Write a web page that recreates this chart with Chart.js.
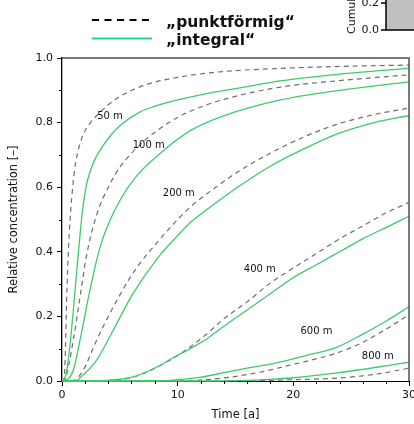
<!DOCTYPE html>
<html>
<head>
<meta charset="utf-8">
<script src="https://cdn.jsdelivr.net/npm/chart.js@4.4.1/dist/chart.umd.min.js"></script>
<style>
  html, body { margin: 0; padding: 0; background: #fff; }
</style>
</head>
<body>
<canvas id="myChart" width="414" height="424"></canvas>
<script>
// distances of the observation points
const distances = ['50 m', '100 m', '200 m', '400 m', '600 m', '800 m'];

// "punktförmig" (dashed) : time [a] / relative concentration
const tPunkt50  = [0, 0.15, 0.3, 0.4, 0.55, 0.7, 0.98, 1.2, 1.6, 2.0, 2.4, 3.0, 4.0, 5.2, 7.5, 10, 12.5, 15, 19, 24, 30];
const cPunkt50  = [0, 0, 0.1, 0.25, 0.4, 0.5, 0.62, 0.68, 0.74, 0.775, 0.797, 0.822, 0.855, 0.885, 0.92, 0.94, 0.953, 0.961, 0.968, 0.974, 0.978];
const tPunkt100 = [0, 0.25, 0.55, 0.98, 1.56, 2.13, 3.0, 4.15, 5, 6, 7, 8.2, 10.2, 12.5, 15.4, 18.9, 24, 30];
const cPunkt100 = [0, 0.003, 0.044, 0.127, 0.26, 0.39, 0.515, 0.61, 0.662, 0.705, 0.74, 0.775, 0.82, 0.855, 0.885, 0.91, 0.93, 0.948];
const tPunkt200 = [0, 1.0, 1.84, 3.0, 4.15, 5.88, 6.75, 8.5, 10, 11.3, 13.7, 15.4, 18, 21, 23.8, 27, 30];
const cPunkt200 = [0, 0.002, 0.034, 0.127, 0.21, 0.32, 0.365, 0.44, 0.5, 0.545, 0.61, 0.652, 0.705, 0.757, 0.795, 0.825, 0.845];
const tPunkt400 = [0, 3, 4.15, 6.16, 8.47, 9.6, 11.07, 12.5, 13.9, 16, 18, 20, 22, 24, 26, 28, 30];
const cPunkt400 = [0, 0, 0.002, 0.012, 0.047, 0.07, 0.105, 0.145, 0.19, 0.245, 0.303, 0.35, 0.395, 0.44, 0.48, 0.52, 0.553];
const tPunkt600 = [0, 10, 12, 13.9, 16, 18, 19, 21, 23.8, 26, 28, 30];
const cPunkt600 = [0, 0, 0.003, 0.009, 0.02, 0.034, 0.043, 0.06, 0.087, 0.12, 0.16, 0.205];
const tPunkt800 = [0, 16, 18, 20, 23.8, 26, 28, 30];
const cPunkt800 = [0, 0, 0.002, 0.004, 0.009, 0.016, 0.026, 0.04];

// "integral" (green) : time [a] / relative concentration
const tInt50  = [0, 0.25, 0.4, 0.69, 0.98, 1.25, 1.5, 1.75, 2.1, 2.5, 2.8, 3.3, 4.2, 5, 6.75, 8, 10, 12.5, 15, 19, 24, 30];
const cInt50  = [0, 0.01, 0.03, 0.11, 0.22, 0.33, 0.43, 0.52, 0.605, 0.655, 0.683, 0.715, 0.76, 0.79, 0.833, 0.85, 0.87, 0.89, 0.905, 0.93, 0.95, 0.968];
const tInt100 = [0, 0.4, 0.98, 1.56, 2.42, 3.28, 4.44, 6.16, 8.5, 11.1, 13.9, 18.9, 24, 30];
const cInt100 = [0, 0.003, 0.034, 0.127, 0.282, 0.413, 0.52, 0.622, 0.705, 0.775, 0.82, 0.87, 0.9, 0.926];
const tInt200 = [0, 1.2, 1.56, 3.0, 4.44, 6.16, 8.47, 10, 11.07, 12.5, 15.4, 18, 21, 23.8, 27, 30];
const cInt200 = [0, 0, 0.01, 0.065, 0.158, 0.272, 0.39, 0.45, 0.49, 0.53, 0.605, 0.665, 0.72, 0.765, 0.8, 0.822];
const tInt400 = [0, 3, 4.15, 6.16, 8.47, 9.6, 11.07, 12.5, 13.9, 16, 18, 20, 22, 24, 26, 28, 30];
const cInt400 = [0, 0, 0.003, 0.013, 0.048, 0.072, 0.1, 0.13, 0.167, 0.22, 0.27, 0.32, 0.36, 0.4, 0.44, 0.475, 0.51];
const tInt600 = [0, 8, 9.6, 12, 13.9, 16, 18, 19, 21, 23.8, 26, 28, 30];
const cInt600 = [0, 0, 0.003, 0.012, 0.025, 0.04, 0.052, 0.06, 0.078, 0.105, 0.145, 0.185, 0.23];
const tInt800 = [0, 13, 16, 18, 20, 23.8, 26, 28, 30];
const cInt800 = [0, 0, 0.002, 0.005, 0.01, 0.025, 0.036, 0.047, 0.058];

const xTicks = [0, 10, 20, 30];
const yTicks = [0.0, 0.2, 0.4, 0.6, 0.8, 1.0];

const legendNames = ['\u201Epunktförmig\u201C', '\u201Eintegral\u201C'];

const GREEN = '#3dcc6c';
const GREY = '#6e6e6e';
const FONT = "'DejaVu Sans', sans-serif";

function pts(t, c) {
  return t.map((x, i) => ({ x: x, y: c[i] }));
}

const punkt = [
  [tPunkt50, cPunkt50], [tPunkt100, cPunkt100], [tPunkt200, cPunkt200],
  [tPunkt400, cPunkt400], [tPunkt600, cPunkt600], [tPunkt800, cPunkt800]
];
const integral = [
  [tInt50, cInt50], [tInt100, cInt100], [tInt200, cInt200],
  [tInt400, cInt400], [tInt600, cInt600], [tInt800, cInt800]
];

// green first so it is drawn on top
const datasets = [];
integral.forEach((s, i) => datasets.push({
  label: legendNames[1] + ' ' + distances[i],
  data: pts(s[0], s[1]),
  borderColor: GREEN, borderWidth: 1.3,
  cubicInterpolationMode: 'monotone', clip: false
}));
punkt.forEach((s, i) => datasets.push({
  label: legendNames[0] + ' ' + distances[i],
  data: pts(s[0], s[1]),
  borderColor: GREY, borderWidth: 1.2, borderDash: [5, 4],
  cubicInterpolationMode: 'monotone', clip: false
}));

// where the distance labels sit (data units)
const labelAt = [[4.15, 0.82], [7.5, 0.73], [10.1, 0.58], [17.1, 0.347], [22.0, 0.152], [27.3, 0.077]];

const extras = {
  id: 'extras',
  afterDraw(chart) {
    const ctx = chart.ctx;
    const a = chart.chartArea;
    const xs = chart.scales.x, ys = chart.scales.y;
    ctx.save();

    // frame top + right
    ctx.strokeStyle = '#505050';
    ctx.lineWidth = 1.5;
    ctx.beginPath();
    ctx.moveTo(a.left, a.top);
    ctx.lineTo(a.right, a.top);
    ctx.lineTo(a.right, a.bottom);
    ctx.stroke();

    // minor ticks
    ctx.strokeStyle = '#000';
    ctx.lineWidth = 1;
    ctx.beginPath();
    for (let v = 2; v < 30; v += 2) {
      if (v % 10 === 0) continue;
      const px = Math.round(xs.getPixelForValue(v)) + 0.5;
      ctx.moveTo(px, a.bottom);
      ctx.lineTo(px, a.bottom + 3);
    }
    for (let v = 0.1; v < 1; v += 0.2) {
      const py = Math.round(ys.getPixelForValue(v)) + 0.5;
      ctx.moveTo(a.left, py);
      ctx.lineTo(a.left - 3, py);
    }
    ctx.stroke();

    // distance labels
    ctx.fillStyle = '#111';
    ctx.font = '10px ' + FONT;
    ctx.textAlign = 'center';
    ctx.textBaseline = 'middle';
    distances.forEach((d, i) => {
      ctx.fillText(d, xs.getPixelForValue(labelAt[i][0]), ys.getPixelForValue(labelAt[i][1]));
    });

    // legend
    ctx.lineWidth = 2;
    ctx.strokeStyle = '#000';
    ctx.setLineDash([7, 5.5]);
    ctx.beginPath();
    ctx.moveTo(92, 20); ctx.lineTo(152, 20);
    ctx.stroke();
    ctx.setLineDash([]);
    ctx.strokeStyle = '#22d39a';
    ctx.beginPath();
    ctx.moveTo(92, 38.5); ctx.lineTo(152, 38.5);
    ctx.stroke();
    ctx.fillStyle = '#111';
    ctx.font = 'bold 15.5px ' + FONT;
    ctx.textAlign = 'left';
    ctx.textBaseline = 'alphabetic';
    ctx.fillText(legendNames[0], 166, 27);
    ctx.fillText(legendNames[1], 166, 45);

    // piece of the neighbouring figure (top right)
    ctx.fillStyle = '#c0c0c0';
    ctx.fillRect(386, 0, 28, 30);
    ctx.strokeStyle = '#000';
    ctx.lineWidth = 1.5;
    ctx.beginPath();
    ctx.moveTo(386, 0); ctx.lineTo(386, 30); ctx.lineTo(414, 30);
    ctx.moveTo(381, 30); ctx.lineTo(386, 30);
    ctx.moveTo(381, 3); ctx.lineTo(386, 3);
    ctx.stroke();
    ctx.fillStyle = '#111';
    ctx.font = '11px ' + FONT;
    ctx.textAlign = 'right';
    ctx.textBaseline = 'middle';
    ctx.fillText('0.2', 379, 3);
    ctx.fillText('0.0', 379, 30);
    ctx.translate(355, 34);
    ctx.rotate(-Math.PI / 2);
    ctx.textAlign = 'left';
    ctx.textBaseline = 'alphabetic';
    ctx.fillText('Cumulative', 0, 0);
    ctx.restore();
  }
};

const config = {
  type: 'line',
  data: { datasets: datasets },
  options: {
    responsive: false,
    animation: false,
    devicePixelRatio: 1,
    layout: { padding: { top: 58, right: 5, left: 0, bottom: 0 } },
    elements: { point: { radius: 0 } },
    plugins: { legend: { display: false }, tooltip: { enabled: false } },
    scales: {
      x: {
        type: 'linear', min: 0, max: 30,
        afterBuildTicks: s => { s.ticks = xTicks.map(v => ({ value: v })); },
        ticks: { color: '#111', font: { family: FONT, size: 11 }, padding: 3, maxRotation: 0,
                 callback: v => String(v) },
        grid: { drawOnChartArea: false, tickLength: 5, color: '#000' },
        border: { color: '#000', width: 1 },
        title: { display: true, text: 'Time [a]', color: '#111', font: { family: FONT, size: 11.5 }, padding: { top: 0, bottom: 2 } },
        afterFit: s => { s.height = 43; s.paddingLeft = 0; s.paddingRight = 0; }
      },
      y: {
        min: 0, max: 1,
        afterBuildTicks: s => { s.ticks = yTicks.map(v => ({ value: v })); },
        ticks: { color: '#111', font: { family: FONT, size: 11 }, padding: 4,
                 callback: v => Number(v).toFixed(1) },
        grid: { drawOnChartArea: false, tickLength: 5, color: '#000' },
        border: { color: '#000', width: 1.3 },
        title: { display: true, text: 'Relative concentration [\u2013]', color: '#111', font: { family: FONT, size: 11.5 }, padding: { top: 7, bottom: 0 } },
        afterFit: s => { s.width = 62; s.paddingTop = 0; s.paddingBottom = 0; }
      }
    }
  },
  plugins: [extras]
};

var myChart = new Chart(document.getElementById('myChart'), config);
</script>
</body>
</html>
